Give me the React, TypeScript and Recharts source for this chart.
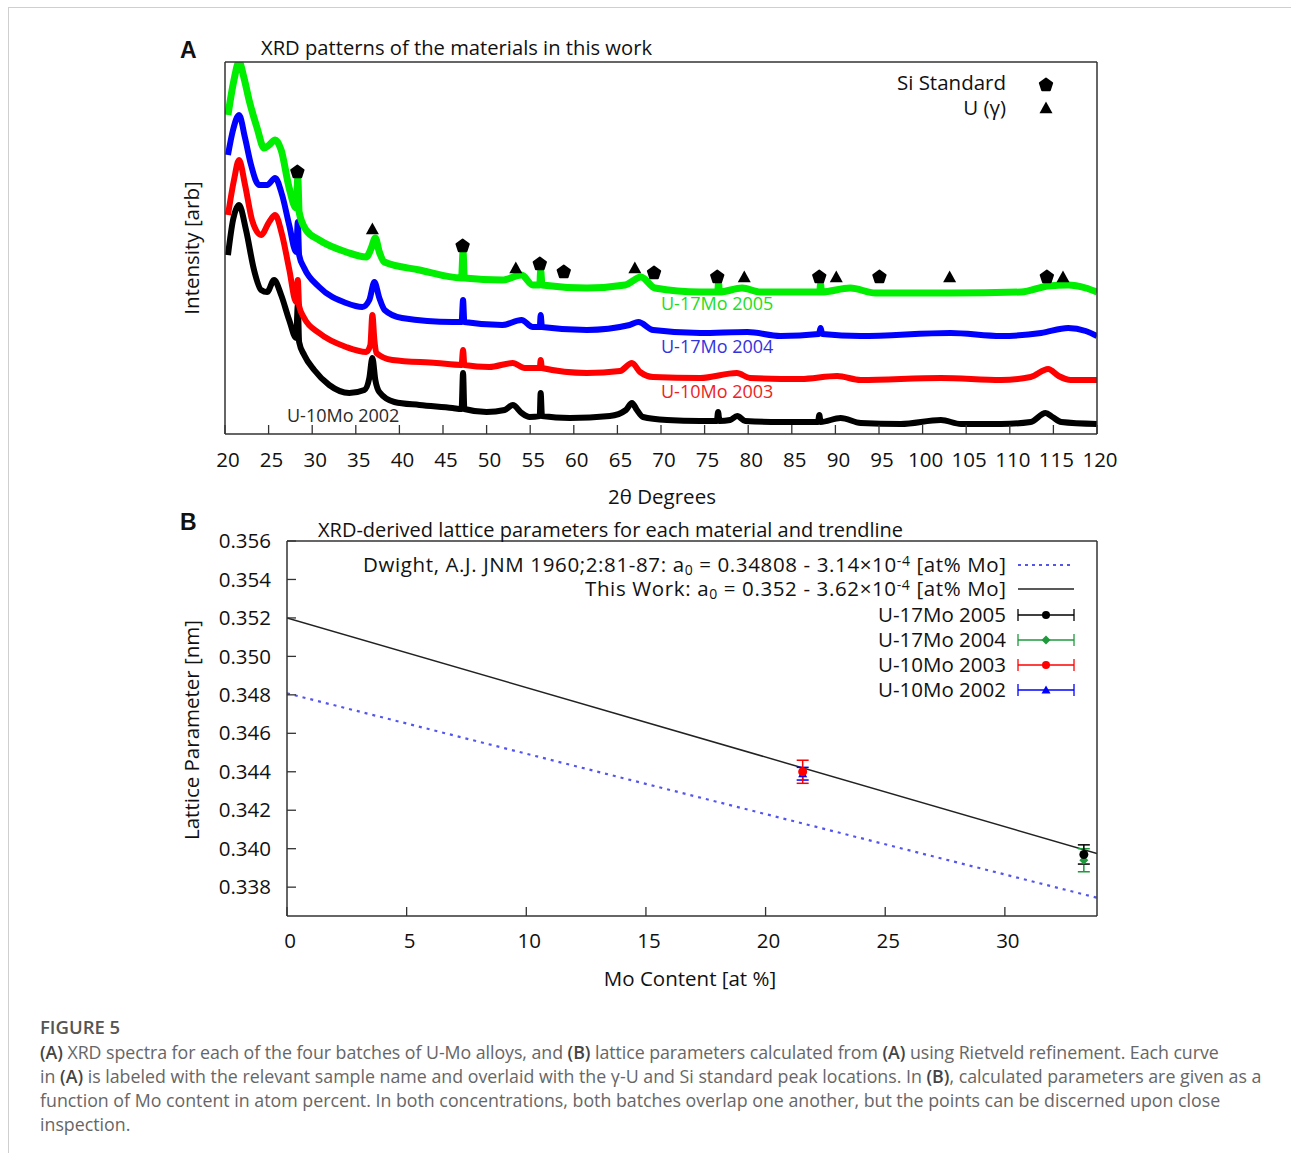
import { ComposedChart, Line, Scatter, XAxis, YAxis, ErrorBar } from "recharts";

// ---- Panel A: XRD patterns (2θ in degrees, intensity in arbitrary units) ----
const degTicks = [20, 25, 30, 35, 40, 45, 50, 55, 60, 65, 70, 75, 80, 85, 90, 95, 100, 105, 110, 115, 120];

const black2002 = [
  [20.34, 179], [20.92, 214], [21.61, 229], [22.41, 204], [23.33, 164], [24.14, 144], [24.83, 142],
  [25.63, 154], [26.44, 139], [27.36, 114], [28.16, 96], [28.35, 129], [28.5, 92], [29.08, 79],
  [30.23, 64], [31.95, 49], [34.25, 41], [35.98, 44], [36.55, 56], [36.9, 76], [37.24, 54], [37.7, 42],
  [39.43, 32], [42.3, 29], [46.09, 26], [47.13, 25], [47.3, 61], [47.45, 25], [50, 22], [52.07, 24],
  [53, 29], [54.02, 21], [54.94, 17], [56.09, 18], [56.2, 41], [56.35, 18], [59.54, 16], [64.14, 18],
  [65.98, 24], [66.67, 31], [67.24, 24], [67.93, 17], [70.69, 14], [74.48, 13], [76.4, 13], [76.55, 22],
  [76.7, 13], [77.93, 14], [78.74, 18], [79.66, 13], [83.68, 12], [88.0, 12], [88.16, 19], [88.3, 12],
  [90.6, 16], [92.9, 11], [97.5, 10], [102.1, 14], [104.4, 10], [109, 10], [112.4, 12], [114.1, 21],
  [114.9, 17], [115.9, 12], [120, 10],
];
const red2003 = [
  [20.34, 219], [21.03, 254], [21.61, 274], [22.3, 249], [23.1, 214], [24.14, 199], [25.06, 212],
  [25.75, 219], [26.55, 199], [27.36, 165], [28.16, 132], [28.35, 154], [28.5, 128], [29.08, 116],
  [30.8, 101], [33.9, 87], [36.2, 82], [36.67, 89], [36.9, 119], [37.13, 94], [37.36, 81], [39.2, 74],
  [44.25, 71], [47.13, 69], [47.3, 84], [47.45, 69], [50.3, 67], [53, 71], [54.37, 66], [56.1, 66],
  [56.2, 74], [56.35, 66], [61.5, 61], [65.3, 63], [66.67, 71], [67.6, 62], [69.1, 57], [74.5, 56],
  [78.7, 61], [80.2, 56], [86, 55], [90.2, 58], [92.9, 54], [102.1, 56], [109, 54], [112.4, 57],
  [114.4, 65], [115.6, 58], [117, 54], [120, 54],
];
const blue2004 = [
  [20.34, 279], [20.92, 304], [21.61, 319], [22.3, 296], [22.99, 269], [23.9, 249], [24.83, 249],
  [25.75, 256], [26.55, 239], [27.36, 209], [28.16, 182], [28.35, 212], [28.5, 179], [29.08, 166],
  [30.8, 147], [33.9, 131], [35.75, 127], [36.55, 134], [37.13, 152], [37.7, 136], [38.3, 124],
  [40.3, 116], [46.1, 112], [47.13, 112], [47.3, 134], [47.45, 112], [51.8, 109], [54, 114], [55.3, 107],
  [56.1, 107], [56.2, 119], [56.35, 107], [61.5, 104], [66.4, 109], [67.4, 112], [69.1, 104], [74.5, 101],
  [79.9, 102], [83.7, 98], [88.1, 100], [88.3, 106], [88.5, 100], [92.9, 98], [103.2, 101], [109, 98],
  [113.6, 101], [116.7, 106], [118.7, 103], [120, 98],
];
const green2005 = [
  [20.34, 319], [21.03, 354], [21.61, 372], [22.18, 356], [22.76, 334], [23.68, 306], [24.48, 286],
  [25.06, 289], [25.75, 294], [26.44, 284], [27.36, 246], [28.16, 226], [28.35, 256], [28.5, 222],
  [29.3, 204], [30.8, 194], [33.9, 182], [36.2, 177], [36.78, 186], [37.24, 196], [37.7, 182],
  [38.28, 172], [42.3, 164], [47.13, 156], [47.3, 182], [47.45, 156], [51.8, 154], [54, 159], [55.3, 149],
  [56.1, 149], [56.2, 164], [56.35, 149], [61.5, 146], [65.9, 149], [67.7, 157], [69.3, 146], [74.5, 142],
  [76.5, 142], [76.6, 151], [76.7, 142], [79.3, 146], [81.4, 142], [88.2, 142], [88.3, 150], [88.4, 142],
  [91.7, 146], [94.6, 141], [103.2, 141], [111.3, 142], [114.4, 148], [116.7, 149], [118.7, 146], [120, 142],
];

// reference peak markers: [2θ, height]
const siPeaks = [[28.3, 262], [47.25, 188], [56.1, 170], [58.85, 162], [69.2, 161], [76.45, 157], [88.15, 157], [95.05, 157], [114.25, 157]];
const uGammaPeaks = [[36.9, 205], [53.35, 166], [67.0, 166], [79.55, 157], [90.1, 157], [103.1, 157], [116.1, 157]];

// ---- Panel B: lattice parameter vs Mo content ----
const moTicks = [0, 5, 10, 15, 20, 25, 30];
const latticeTicks = [0.338, 0.34, 0.342, 0.344, 0.346, 0.348, 0.35, 0.352, 0.354, 0.356];
const dwightLine = [{ x: 0, y: 0.34808 }, { x: 33.85, y: 0.33745 }];
const thisWorkLine = [{ x: 0, y: 0.352 }, { x: 33.85, y: 0.33975 }];
const u17Mo2005 = [{ x: 33.3, y: 0.3397, err: 0.0005 }];
const u17Mo2004 = [{ x: 33.3, y: 0.3394, err: 0.0006 }];
const u10Mo2003 = [{ x: 21.55, y: 0.344, err: 0.0006 }];
const u10Mo2002 = [{ x: 21.55, y: 0.3439, err: 0.00033 }];

const FONT = "'Open Sans', 'Noto Sans', sans-serif";
const FS = 20.5;
const AXIS = "#333";

const toPts = (a: number[][]) => a.map(([deg, v]) => ({ deg, v }));

function tickFactory(side: "bottom" | "top" | "left" | "right", fmt?: (v: number) => string, labelOffset = 26) {
  return (props: any) => {
    const { x, y, payload } = props;
    const len = 9;
    if (side === "bottom")
      return (
        <g>
          <line x1={x} y1={y} x2={x} y2={y - len} stroke={AXIS} strokeWidth={1.3} />
          {fmt && (
            <text x={x + 3} y={y + labelOffset} dy="0.35em" textAnchor="middle" fontFamily={FONT} fontSize={FS} fill="#111">
              {fmt(payload.value)}
            </text>
          )}
        </g>
      );
    if (side === "top") return <line x1={x} y1={y} x2={x} y2={y + len} stroke={AXIS} strokeWidth={1.3} />;
    if (side === "left")
      return (
        <g>
          <line x1={x} y1={y} x2={x + len} y2={y} stroke={AXIS} strokeWidth={1.3} />
          {fmt && (
            <text x={x - labelOffset} y={y} dy="0.35em" textAnchor="end" fontFamily={FONT} fontSize={FS} fill="#111">
              {fmt(payload.value)}
            </text>
          )}
        </g>
      );
    return <line x1={x} y1={y} x2={x - len} y2={y} stroke={AXIS} strokeWidth={1.3} />;
  };
}

const pentagon = (cx: number, cy: number, r = 7) => {
  const pts = [0, 1, 2, 3, 4].map((i) => {
    const a = -Math.PI / 2 + (i * 2 * Math.PI) / 5;
    return `${cx + r * Math.cos(a)},${cy + r * Math.sin(a)}`;
  });
  return <polygon points={pts.join(" ")} fill="#000" stroke="#000" strokeWidth={2} strokeLinejoin="round" />;
};
const triangle = (cx: number, cy: number, color = "#000", s = 6.5) => (
  <polygon points={`${cx},${cy - s} ${cx + s},${cy + s * 0.8} ${cx - s},${cy + s * 0.8}`} fill={color} />
);
const diamond = (cx: number, cy: number, color: string, s = 5) => (
  <polygon points={`${cx},${cy - s} ${cx + s},${cy} ${cx},${cy + s} ${cx - s},${cy}`} fill={color} />
);

const legendA = [
  { label: "Si Standard", shape: "pent" },
  { label: "U (γ)", shape: "tri" },
];
const legendSeriesB = [
  { label: "U-17Mo 2005", color: "#000000", shape: "circle" },
  { label: "U-17Mo 2004", color: "#1e9a3c", shape: "diamond" },
  { label: "U-10Mo 2003", color: "#ff0000", shape: "circle" },
  { label: "U-10Mo 2002", color: "#0000ff", shape: "tri" },
];
const curveLabels = [
  { text: "U-17Mo 2005", x: 661, y: 304, color: "#22dd22" },
  { text: "U-17Mo 2004", x: 661, y: 347, color: "#3333dd" },
  { text: "U-10Mo 2003", x: 661, y: 392, color: "#ee2222" },
  { text: "U-10Mo 2002", x: 287, y: 416, color: "#2a2a2a" },
];

const marker = (shape: string, cx: number, cy: number, color: string) => {
  if (shape === "circle") return <circle cx={cx} cy={cy} r={4} fill={color} />;
  if (shape === "diamond") return diamond(cx, cy, color, 4.5);
  if (shape === "tri") return triangle(cx, cy, color, 4.5);
  return pentagon(cx, cy);
};

function Overlay() {
  const t = (x: number, y: number, s: string, extra: any = {}) => (
    <text x={x} y={y} dy="0.35em" fontFamily={FONT} fontSize={FS} fill="#111" {...extra}>
      {s}
    </text>
  );
  const legY = [565, 589, 615, 640, 665, 690];
  return (
    <svg width={1291} height={1000} style={{ position: "absolute", left: 0, top: 0, pointerEvents: "none" }}>
      <text x={180} y={50} dy="0.35em" fontFamily="'Liberation Sans', Arial, sans-serif" fontWeight="bold" fontSize={23} fill="#111">A</text>
      <text x={180} y={522} dy="0.35em" fontFamily="'Liberation Sans', Arial, sans-serif" fontWeight="bold" fontSize={23} fill="#111">B</text>
      {t(261, 48, "XRD patterns of the materials in this work", { textLength: 391, lengthAdjust: "spacingAndGlyphs" })}
      {t(318, 530, "XRD-derived lattice parameters for each material and trendline", { textLength: 585, lengthAdjust: "spacingAndGlyphs" })}
      {t(0, 0, "Intensity [arb]", { transform: "translate(192,248) rotate(-90)", textAnchor: "middle" })}
      {t(0, 0, "Lattice Parameter [nm]", { transform: "translate(192,730) rotate(-90)", textAnchor: "middle" })}
      {t(662, 497, "2θ Degrees", { textAnchor: "middle" })}
      {t(690, 979, "Mo Content [at %]", { textAnchor: "middle" })}

      {legendA.map((d, i) => (
        <g key={d.label}>
          {t(1006, 83 + i * 25, d.label, { textAnchor: "end" })}
          {d.shape === "pent" ? pentagon(1046, 85, 6.5) : triangle(1046, 108, "#000", 6.5)}
        </g>
      ))}
      {curveLabels.map((c) => (
        <text key={c.text} x={c.x} y={c.y} dy="0.35em" fontFamily={FONT} fontSize={18} fill={c.color}>
          {c.text}
        </text>
      ))}

      {/* Panel B legend */}
      <text x={363} y={legY[0]} dy="0.35em" fontFamily={FONT} fontSize={FS} fill="#111" textLength={643} lengthAdjust="spacing">
        Dwight, A.J. JNM 1960;2:81-87: a<tspan dy={3} fontSize={14}>0</tspan>
        <tspan dy={-3}> = 0.34808 - 3.14×10</tspan>
        <tspan dy={-6} fontSize={14}>-4</tspan>
        <tspan dy={6}> [at% Mo]</tspan>
      </text>
      <line x1={1018} x2={1074} y1={legY[0]} y2={legY[0]} stroke="#5555ee" strokeWidth={2} strokeDasharray="3 4" />
      <text x={585} y={legY[1]} dy="0.35em" fontFamily={FONT} fontSize={FS} fill="#111" textLength={421} lengthAdjust="spacing">
        This Work: a<tspan dy={3} fontSize={14}>0</tspan>
        <tspan dy={-3}> = 0.352 - 3.62×10</tspan>
        <tspan dy={-6} fontSize={14}>-4</tspan>
        <tspan dy={6}> [at% Mo]</tspan>
      </text>
      <line x1={1018} x2={1074} y1={legY[1]} y2={legY[1]} stroke="#222" strokeWidth={1.5} />
      {legendSeriesB.map((d, i) => {
        const y = legY[i + 2];
        return (
          <g key={d.label}>
            {t(1006, y, d.label, { textAnchor: "end" })}
            <line x1={1018} x2={1074} y1={y} y2={y} stroke={d.color} strokeWidth={1.3} />
            <line x1={1018} x2={1018} y1={y - 6} y2={y + 6} stroke={d.color} strokeWidth={1.3} />
            <line x1={1074} x2={1074} y1={y - 6} y2={y + 6} stroke={d.color} strokeWidth={1.3} />
            {marker(d.shape, 1046, y, d.color)}
          </g>
        );
      })}
    </svg>
  );
}

const axisLine = { stroke: AXIS, strokeWidth: 1.5 };

function PanelA() {
  // plot area: x 225..1097, y 62..434
  return (
    <div style={{ position: "absolute", left: 0, top: 0 }}>
      <ComposedChart width={1291} height={520} margin={{ top: 61, left: 224, right: 193, bottom: 56 }}>
        <XAxis dataKey="deg" type="number" domain={[20, 120]} ticks={degTicks} interval={0} height={30}
          allowDataOverflow axisLine={axisLine} tickLine={false} tickSize={0} tickMargin={0}
          tick={tickFactory("bottom", (v) => String(v), 26)} />
        <XAxis xAxisId="top" orientation="top" dataKey="deg" type="number" domain={[20, 120]} ticks={degTicks}
          interval={0} height={1} axisLine={axisLine} tickLine={false} tickSize={0}
          tickMargin={0} tick={tickFactory("top")} />
        <YAxis dataKey="v" type="number" domain={[0, 372]} allowDataOverflow width={1} tick={false} tickLine={false}
          axisLine={axisLine} />
        <YAxis yAxisId="r" orientation="right" type="number" domain={[0, 1]} width={1} tick={false} tickLine={false}
          axisLine={axisLine} />
        <Line data={toPts(black2002)} dataKey="v" type="monotone" stroke="#000000" strokeWidth={6} dot={false} isAnimationActive={false} strokeLinejoin="round" />
        <Line data={toPts(red2003)} dataKey="v" type="monotone" stroke="#ff0000" strokeWidth={6} dot={false} isAnimationActive={false} strokeLinejoin="round" />
        <Line data={toPts(blue2004)} dataKey="v" type="monotone" stroke="#0000ff" strokeWidth={6} dot={false} isAnimationActive={false} strokeLinejoin="round" />
        <Line data={toPts(green2005)} dataKey="v" type="monotone" stroke="#00ee00" strokeWidth={7} dot={false} isAnimationActive={false} strokeLinejoin="round" />
        <Scatter data={toPts(siPeaks)} dataKey="v" isAnimationActive={false}
          shape={(p: any) => pentagon(p.cx, p.cy, 6.5)} />
        <Scatter data={toPts(uGammaPeaks)} dataKey="v" isAnimationActive={false}
          shape={(p: any) => triangle(p.cx, p.cy, "#000", 6.5)} />
      </ComposedChart>
    </div>
  );
}

function PanelB() {
  // plot area: x 287..1097, y 541..916
  return (
    <div style={{ position: "absolute", left: 0, top: 480 }}>
      <ComposedChart width={1291} height={520} margin={{ top: 60, left: 286, right: 193, bottom: 54 }}>
        <XAxis dataKey="x" type="number" domain={[0, 33.85]} ticks={moTicks} interval={0} height={30} allowDataOverflow
          axisLine={axisLine} tickLine={false} tickSize={0} tickMargin={0}
          tick={tickFactory("bottom", (v) => String(v), 25)} />
        <XAxis xAxisId="top" orientation="top" dataKey="x" type="number" domain={[0, 33.85]} ticks={moTicks}
          interval={0} height={1} axisLine={axisLine} tickLine={false} tickSize={0}
          tickMargin={0} tick={tickFactory("top")} />
        <YAxis dataKey="y" type="number" domain={[0.3365, 0.356]} ticks={latticeTicks} interval={0} allowDataOverflow
          width={1} axisLine={axisLine} tickLine={false} tickSize={0} tickMargin={0}
          tick={tickFactory("left", (v) => v.toFixed(3), 16)} />
        <YAxis yAxisId="r" orientation="right" type="number" domain={[0.3365, 0.356]} ticks={latticeTicks} interval={0}
          width={1} axisLine={axisLine} tickLine={false} tickSize={0} tickMargin={0}
          tick={tickFactory("right")} />
        <Line data={dwightLine} dataKey="y" stroke="#5555ee" strokeWidth={2.2} strokeDasharray="3 5" dot={false} isAnimationActive={false} />
        <Line data={thisWorkLine} dataKey="y" stroke="#222" strokeWidth={1.5} dot={false} isAnimationActive={false} />
        <Scatter data={u10Mo2002} dataKey="y" isAnimationActive={false} shape={(p: any) => triangle(p.cx, p.cy, "#0000ff", 4.5)}>
          <ErrorBar dataKey="err" direction="y" width={6} stroke="#0000ff" strokeWidth={1.5} />
        </Scatter>
        <Scatter data={u10Mo2003} dataKey="y" isAnimationActive={false} shape={(p: any) => <circle cx={p.cx} cy={p.cy} r={4.5} fill="#ff0000" />}>
          <ErrorBar dataKey="err" direction="y" width={6} stroke="#ff0000" strokeWidth={1.5} />
        </Scatter>
        <Scatter data={u17Mo2004} dataKey="y" isAnimationActive={false} shape={(p: any) => diamond(p.cx, p.cy, "#1e9a3c", 4.5)}>
          <ErrorBar dataKey="err" direction="y" width={6} stroke="#1e9a3c" strokeWidth={1.5} />
        </Scatter>
        <Scatter data={u17Mo2005} dataKey="y" isAnimationActive={false} shape={(p: any) => <circle cx={p.cx} cy={p.cy} r={4.5} fill="#000" />}>
          <ErrorBar dataKey="err" direction="y" width={6} stroke="#000" strokeWidth={1.5} />
        </Scatter>
      </ComposedChart>
    </div>
  );
}

const capStyle = { position: "absolute" as const, left: 40, whiteSpace: "nowrap" as const, fontFamily: "'Open Sans', 'Noto Sans', sans-serif", fontSize: 17.8, color: "#666", lineHeight: "24px" };
const B = ({ children }: { children: string }) => <b style={{ color: "#444", fontWeight: 600 }}>{children}</b>;

export default function App() {
  return (
    <div style={{ position: "absolute", left: 0, top: 0, width: 1291, height: 1153, background: "#fff", overflow: "hidden" }}>
      <div style={{ position: "absolute", left: 8, top: 7, width: 1283, height: 1146, borderTop: "1px solid #cfcfcf", borderLeft: "1px solid #cfcfcf" }} />
      <PanelA />
      <PanelB />
      <Overlay />
      <div style={{ ...capStyle, top: 1015, fontSize: 18.5, color: "#555", fontWeight: 600 }}>FIGURE 5</div>
      <div style={{ ...capStyle, top: 1040, letterSpacing: -0.05 }}>
        <B>(A)</B> XRD spectra for each of the four batches of U-Mo alloys, and <B>(B)</B> lattice parameters calculated from <B>(A)</B> using Rietveld refinement. Each curve
      </div>
      <div style={{ ...capStyle, top: 1064 }}>
        in <B>(A)</B> is labeled with the relevant sample name and overlaid with the γ-U and Si standard peak locations. In <B>(B)</B>, calculated parameters are given as a
      </div>
      <div style={{ ...capStyle, top: 1088 }}>
        function of Mo content in atom percent. In both concentrations, both batches overlap one another, but the points can be discerned upon close
      </div>
      <div style={{ ...capStyle, top: 1112 }}>inspection.</div>
    </div>
  );
}
